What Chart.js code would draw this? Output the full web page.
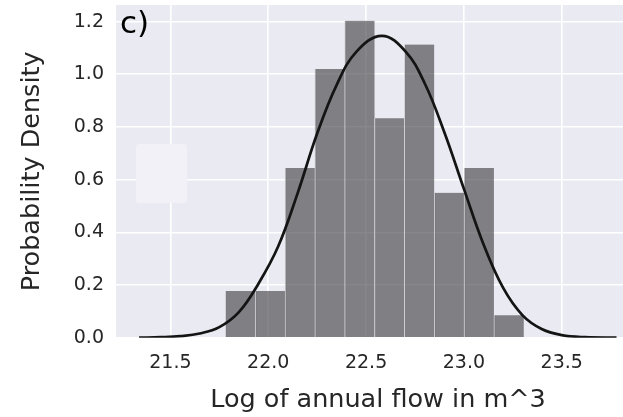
<!DOCTYPE html>
<html>
<head>
<meta charset="utf-8">
<script src="https://cdn.jsdelivr.net/npm/chart.js@4/dist/chart.umd.min.js"></script>
<style>
  html, body { margin: 0; padding: 0; background: #ffffff; overflow: hidden; width: 623px; height: 417px; }
  #wrap { position: absolute; left: 0; top: 0; width: 641px; height: 417px; }
</style>
</head>
<body>
<div id="wrap"><canvas id="c" width="641" height="417"></canvas></div>
<script>
// Histogram bin edges (log of annual flow) and density heights
const binEdges = [21.781, 21.9335, 22.086, 22.2385, 22.391, 22.5435, 22.696, 22.8485, 23.001, 23.1535, 23.306];
const density  = [0.177, 0.177, 0.644, 1.020, 1.203, 0.833, 1.113, 0.550, 0.644, 0.085];

// Fitted density curve
const curveX = [21.34, 21.45, 21.55, 21.65, 21.75, 21.85, 21.95, 22.05, 22.15, 22.25, 22.35, 22.45, 22.58, 22.70, 22.80, 22.90, 23.00, 23.10, 23.20, 23.30, 23.40, 23.50, 23.62, 23.78];
const curveY = [0.000, 0.002, 0.006, 0.016, 0.040, 0.097, 0.205, 0.345, 0.548, 0.775, 0.960, 1.085, 1.146, 1.088, 0.965, 0.780, 0.565, 0.355, 0.190, 0.085, 0.032, 0.010, 0.002, 0.000];

// Tick labels
const xTicks = [21.5, 22.0, 22.5, 23.0, 23.5];
const yTicks = [0.0, 0.2, 0.4, 0.6, 0.8, 1.0, 1.2];

const FONT = "'DejaVu Sans', 'Liberation Sans', sans-serif";
const TXT = '#262626';

const barData = density.map((d, i) => ({ x: (binEdges[i] + binEdges[i + 1]) / 2, y: d }));
const lineData = curveX.map((x, i) => ({ x: x, y: curveY[i] }));

const bgPlugin = {
  id: 'bg',
  beforeDraw(chart) {
    const { ctx, chartArea: a } = chart;
    ctx.save();
    ctx.fillStyle = '#ffffff';
    ctx.fillRect(0, 0, chart.width, chart.height);
    ctx.fillStyle = '#EAEAF2';
    ctx.fillRect(a.left, a.top, a.right - a.left, a.bottom - a.top);
    ctx.restore();
  },
  beforeDatasetsDraw(chart) {
    // faint empty box over the grid (present in the original)
    const { ctx } = chart;
    ctx.save();
    ctx.fillStyle = 'rgba(241,241,247,1)';
    ctx.beginPath();
    if (ctx.roundRect) ctx.roundRect(136, 144, 51, 59, 3); else ctx.rect(136, 144, 51, 59);
    ctx.fill();
    ctx.restore();
  },
  afterDraw(chart) {
    const { ctx, chartArea: a } = chart;
    ctx.save();
    ctx.fillStyle = '#000000';
    ctx.font = "31px " + FONT;
    ctx.textAlign = 'left';
    ctx.textBaseline = 'alphabetic';
    ctx.fillText('c)', a.left + 4, 33);
    ctx.restore();
  }
};

new Chart(document.getElementById('c'), {
  type: 'bar',
  data: {
    datasets: [
      {
        type: 'line',
        data: lineData,
        borderColor: '#141414',
        borderWidth: 2.7,
        pointRadius: 0,
        fill: false,
        tension: 0.4,
        order: 0
      },
      {
        type: 'bar',
        data: barData,
        backgroundColor: 'rgba(62,62,64,0.62)',
        borderColor: 'rgba(205,205,210,0.95)',
        borderWidth: { left: 1, right: 0, top: 0, bottom: 0 },
        borderSkipped: false,
        barPercentage: 1.0,
        categoryPercentage: 1.0,
        grouped: false,
        order: 1
      }
    ]
  },
  options: {
    responsive: false,
    animation: false,
    devicePixelRatio: 1,
    layout: { padding: { left: 0, right: 1, top: 5, bottom: 0 } },
    plugins: { legend: { display: false }, tooltip: { enabled: false } },
    scales: {
      x: {
        type: 'linear',
        min: 21.222,
        max: 23.90,
        offset: false,
        afterBuildTicks: s => { s.ticks = xTicks.map(v => ({ value: v })); },
        afterFit: s => { s.height = 79.3; s.paddingLeft = 0; s.paddingRight = 0; },
        grid: { color: '#ffffff', lineWidth: 1.6, drawTicks: false, offset: false },
        border: { display: false },
        ticks: {
          color: TXT,
          font: { family: FONT, size: 19 },
          padding: 14,
          maxRotation: 0,
          callback: v => Number(v).toFixed(1)
        },
        title: {
          display: true,
          text: 'Log of annual flow in m^3',
          color: TXT,
          font: { family: FONT, size: 25.5, lineHeight: 1.2 },
          padding: { top: 0, bottom: 1 }
        }
      },
      y: {
        type: 'linear',
        min: 0,
        max: 1.263,
        afterBuildTicks: s => { s.ticks = yTicks.map(v => ({ value: v })); },
        afterFit: s => { s.width = 116; s.paddingTop = 0; s.paddingBottom = 0; },
        grid: { color: '#ffffff', lineWidth: 1.6, drawTicks: false },
        border: { display: false },
        ticks: {
          color: TXT,
          font: { family: FONT, size: 19 },
          padding: 12,
          callback: v => Number(v).toFixed(1)
        },
        title: {
          display: true,
          text: 'Probability Density',
          color: TXT,
          font: { family: FONT, size: 25.5, lineHeight: 1.2 },
          padding: { top: 17, bottom: 0 }
        }
      }
    }
  },
  plugins: [bgPlugin]
});
</script>
</body>
</html>
